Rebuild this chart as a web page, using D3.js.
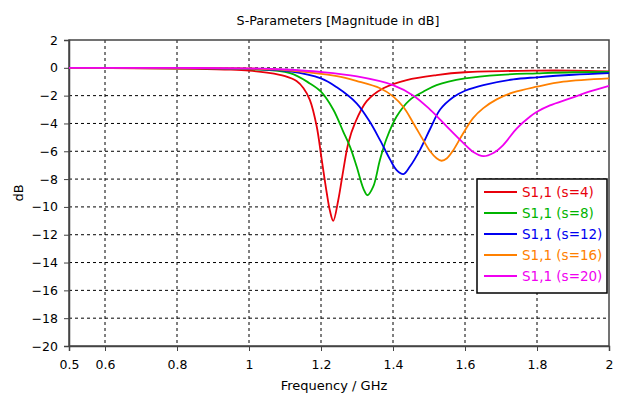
<!DOCTYPE html>
<html>
<head>
<meta charset="utf-8">
<script src="https://cdn.jsdelivr.net/npm/d3@7"></script>
<style>
  body { margin: 0; background: #fff; }
  text { font-family: "DejaVu Sans", sans-serif; }
</style>
</head>
<body>
<script>
// S11 curves for different s values, [GHz, dB]
var seriesNames = ["S1,1 (s=4)", "S1,1 (s=8)", "S1,1 (s=12)", "S1,1 (s=16)", "S1,1 (s=20)"];
var seriesColors = ["#e8000b", "#00b400", "#0000f0", "#ff8000", "#f000f0"];

var s4 = [[0.5,-0.01],[0.7,-0.03],[0.85,-0.07],[0.95,-0.13],[1.0,-0.2],[1.05,-0.35],[1.1,-0.6],[1.132,-0.95],
  [1.151,-1.45],[1.169,-2.3],[1.188,-4.2],[1.202,-6.6],[1.216,-9.0],[1.225,-10.3],[1.234,-11.0],[1.248,-9.5],
  [1.262,-7.35],[1.276,-5.4],[1.294,-4.0],[1.327,-2.4],[1.373,-1.47],[1.438,-0.88],[1.521,-0.52],
  [1.6,-0.32],[1.8,-0.2],[1.9,-0.2],[2.0,-0.25]];
var s8 = [[0.5,-0.01],[0.8,-0.03],[1.0,-0.1],[1.114,-0.38],[1.169,-1.12],[1.2,-1.72],[1.234,-3.0],[1.262,-4.6],
  [1.281,-5.7],[1.299,-7.1],[1.318,-8.7],[1.329,-9.16],[1.345,-8.55],[1.364,-6.6],[1.382,-5.1],[1.41,-3.5],
  [1.447,-2.3],[1.484,-1.72],[1.521,-1.24],[1.6,-0.76],[1.7,-0.5],[1.8,-0.4],[1.9,-0.32],[2.0,-0.3]];
var s12 = [[0.5,0],[0.8,-0.02],[1.0,-0.07],[1.114,-0.25],[1.2,-0.76],[1.244,-1.4],[1.299,-2.55],[1.336,-3.9],
  [1.364,-5.2],[1.392,-6.6],[1.41,-7.35],[1.429,-7.64],[1.447,-7.1],[1.475,-5.9],[1.503,-4.4],[1.531,-3.0],
  [1.568,-2.1],[1.6,-1.65],[1.651,-1.24],[1.734,-0.83],[1.8,-0.68],[1.9,-0.5],[2.0,-0.38]];
var s16 = [[0.5,0],[0.8,-0.01],[1.0,-0.05],[1.114,-0.2],[1.244,-0.6],[1.3,-0.95],[1.364,-1.47],[1.4,-2.05],
  [1.43,-2.85],[1.457,-4.0],[1.484,-5.2],[1.503,-6.0],[1.521,-6.5],[1.535,-6.68],[1.55,-6.5],[1.568,-5.9],
  [1.595,-4.7],[1.623,-3.6],[1.651,-2.9],[1.688,-2.27],[1.734,-1.77],[1.8,-1.36],[1.873,-1.0],[2.0,-0.76]];
var s20 = [[0.5,0],[0.8,-0.01],[1.0,-0.04],[1.1,-0.12],[1.2,-0.3],[1.3,-0.62],[1.4,-1.24],[1.457,-2.0],
  [1.503,-3.0],[1.521,-3.45],[1.558,-4.45],[1.595,-5.4],[1.623,-6.05],[1.651,-6.35],[1.68,-6.1],[1.706,-5.55],
  [1.744,-4.35],[1.781,-3.5],[1.8,-3.16],[1.836,-2.7],[1.892,-2.2],[1.947,-1.7],[2.0,-1.3]];

var xTicks = [0.5, 0.6, 0.8, 1, 1.2, 1.4, 1.6, 1.8, 2];
var yTicks = [2, 0, -2, -4, -6, -8, -10, -12, -14, -16, -18, -20];

var allSeries = [s4, s8, s12, s16, s20];

var W = 642, H = 397;
var margin = {top: 40, right: 33, bottom: 51, left: 69},
    width = W - margin.left - margin.right,
    height = H - margin.top - margin.bottom;

var svg = d3.select("body").append("svg")
    .attr("width", W)
    .attr("height", H);

var g = svg.append("g")
    .attr("transform", "translate(" + margin.left + "," + margin.top + ")");

var x = d3.scaleLinear().domain([0.5, 2]).range([0, width]);
var y = d3.scaleLinear().domain([-20, 2]).range([height, 0]);

// grid
g.selectAll(".vgrid")
  .data(xTicks.filter(function(d) { return d > 0.5 && d < 2; }))
  .enter().append("line")
    .attr("x1", function(d) { return x(d); })
    .attr("x2", function(d) { return x(d); })
    .attr("y1", 0).attr("y2", height)
    .attr("stroke", "#000").attr("stroke-width", 1)
    .attr("stroke-dasharray", "3,3");
g.selectAll(".hgrid")
  .data(yTicks.filter(function(d) { return d > -20 && d < 2; }))
  .enter().append("line")
    .attr("x1", 0).attr("x2", width)
    .attr("y1", function(d) { return y(d); })
    .attr("y2", function(d) { return y(d); })
    .attr("stroke", "#000").attr("stroke-width", 1)
    .attr("stroke-dasharray", "3,3");

// frame
g.append("rect")
    .attr("x", 0).attr("y", 0)
    .attr("width", width).attr("height", height)
    .attr("fill", "none").attr("stroke", "#444").attr("stroke-width", 1.5);

// axes
var xAxis = g.append("g")
    .attr("transform", "translate(0," + height + ")")
    .call(d3.axisBottom(x).tickValues(xTicks).tickSize(5).tickPadding(9).tickFormat(d3.format("")));
var yAxis = g.append("g")
    .call(d3.axisLeft(y).tickValues(yTicks).tickSize(5).tickPadding(6).tickFormat(d3.format("")));
[xAxis, yAxis].forEach(function(a) {
  a.select(".domain").attr("stroke", "#444").attr("stroke-width", 1.5);
  a.selectAll(".tick line").attr("stroke", "#444");
  a.selectAll("text").attr("fill", "#000").style("font-size", "12.5px")
    .style("font-family", "'DejaVu Sans', sans-serif");
});

// curves
var line = d3.line()
    .x(function(d) { return x(d[0]); })
    .y(function(d) { return y(d[1]); })
    .curve(d3.curveCatmullRom.alpha(0.5));

g.selectAll(".curve")
  .data(allSeries)
  .enter().append("path")
    .attr("d", line)
    .attr("fill", "none")
    .attr("stroke", function(d, i) { return seriesColors[i]; })
    .attr("stroke-width", 1.8);

// titles
svg.append("text")
    .attr("x", 338).attr("y", 25)
    .attr("text-anchor", "middle").style("font-size", "12.7px")
    .text("S-Parameters [Magnitude in dB]");
svg.append("text")
    .attr("x", 334).attr("y", 390)
    .attr("text-anchor", "middle").style("font-size", "13px")
    .text("Frequency / GHz");
svg.append("text")
    .attr("transform", "translate(23," + (margin.top + height / 2) + ") rotate(-90)")
    .attr("text-anchor", "middle").style("font-size", "13px")
    .text("dB");

// legend
var leg = svg.append("g").attr("transform", "translate(477,179)");
leg.append("rect")
    .attr("width", 130).attr("height", 114)
    .attr("fill", "#fff").attr("stroke", "#000").attr("stroke-width", 1.5);
var items = leg.selectAll(".item")
  .data(seriesNames)
  .enter().append("g")
    .attr("transform", function(d, i) { return "translate(0," + (13 + i * 21) + ")"; });
items.append("line")
    .attr("x1", 7).attr("x2", 40)
    .attr("stroke", function(d, i) { return seriesColors[i]; })
    .attr("stroke-width", 1.8);
items.append("text")
    .attr("x", 45).attr("y", 5)
    .style("font-size", "13.5px")
    .attr("fill", function(d, i) { return seriesColors[i]; })
    .text(function(d) { return d; });
</script>
</body>
</html>
